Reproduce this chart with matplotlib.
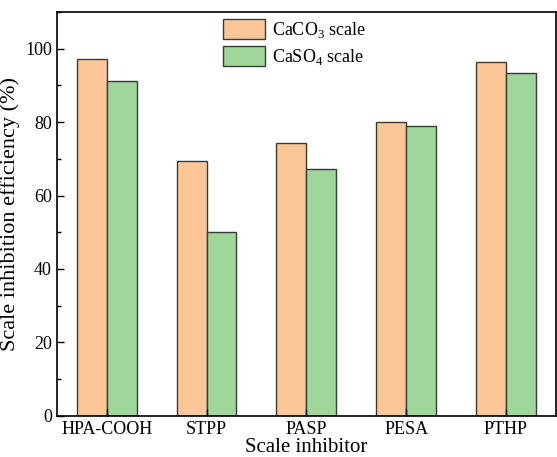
import matplotlib
matplotlib.use('Agg')
import matplotlib.pyplot as plt
import numpy as np
from matplotlib.ticker import MultipleLocator

plt.rcParams['font.family'] = ['Liberation Serif', 'DejaVu Serif']
plt.rcParams['mathtext.fontset'] = 'custom'
plt.rcParams['mathtext.rm'] = 'Liberation Serif'

# данные
inhibitors = ['HPA-COOH', 'STPP', 'PASP', 'PESA', 'PTHP']
caco3 = [97.2, 69.3, 74.4, 80.1, 96.3]
caso4 = [91.1, 50.0, 67.3, 78.9, 93.3]

fig = plt.figure(figsize=(5.57, 4.57), dpi=100)
ax = fig.add_axes([0.102, 0.09, 0.896, 0.884])

x = np.arange(1, len(inhibitors) + 1)
w = 0.3
ax.bar(x - w/2, caco3, w, color='#fbc796', edgecolor='#3a3a3a', linewidth=1.0,
       label='CaCO$_3$ scale')
ax.bar(x + w/2, caso4, w, color='#9fd79b', edgecolor='#3a3a3a', linewidth=1.0,
       label='CaSO$_4$ scale')

ax.set_xlim(0.5, 5.5)
ax.set_ylim(0, 110)
ax.set_xticks(x)
ax.set_xticklabels(inhibitors)
ax.yaxis.set_major_locator(MultipleLocator(20))
ax.yaxis.set_minor_locator(MultipleLocator(10))
ax.tick_params(direction='in', labelsize=13, length=5, width=1)
ax.tick_params(which='minor', direction='in', length=3, width=1)
for s in ax.spines.values():
    s.set_linewidth(1.2)

ax.set_xlabel('Scale inhibitor', fontsize=15, labelpad=0)
ax.set_ylabel('Scale inhibition efficiency (%)', fontsize=16, labelpad=4)

ax.legend(loc='upper left', bbox_to_anchor=(223/557, 1 - 19/457),
          bbox_transform=fig.transFigure, frameon=False, fontsize=13,
          handlelength=2.3, handleheight=1.35, labelspacing=0.3,
          borderpad=0, borderaxespad=0, handletextpad=0.4)

fig.savefig('out.png', dpi=100)
